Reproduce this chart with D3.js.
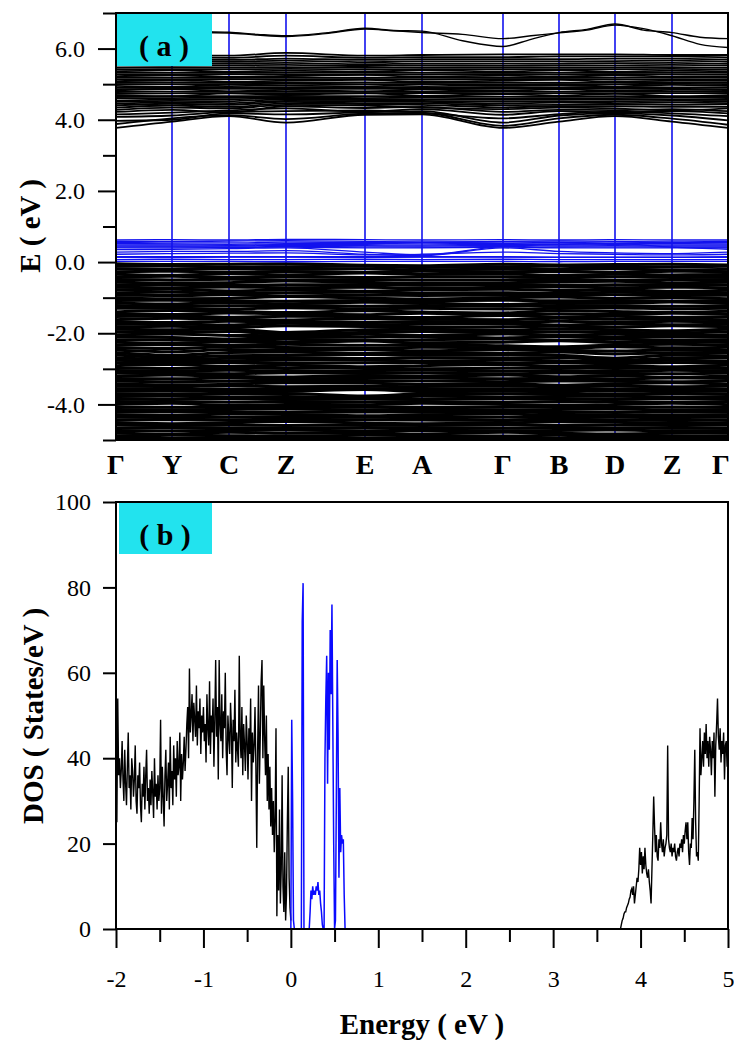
<!DOCTYPE html>
<html>
<head>
<meta charset="utf-8">
<script src="https://cdn.jsdelivr.net/npm/d3@7"></script>
<style>
  body { margin: 0; background: #fff; }
  svg { display: block; }
  text { font-family: "Liberation Serif", "Times New Roman", serif; }
</style>
</head>
<body>
<svg id="chart" width="734" height="1040"></svg>
<script>
// ---------- k-path ----------
const kLabels = ["Γ", "Y", "C", "Z", "E", "A", "Γ", "B", "D", "Z", "Γ"];
const kDist = [0, 0.56, 1.13, 1.70, 2.49, 3.06, 3.87, 4.43, 4.99, 5.56, 6.12];
// symmetry points plus the midpoints of each segment
const kFine = [0, 0.28, 0.56, 0.845, 1.13, 1.415, 1.70, 2.095, 2.49, 2.775, 3.06,
               3.465, 3.87, 4.15, 4.43, 4.71, 4.99, 5.275, 5.56, 5.84, 6.12];

// ---------- band energies (eV) ----------
// highest conduction bands, sampled on kFine
const upperBands = [
  [6.50, 6.50, 6.49, 6.48, 6.46, 6.40, 6.36, 6.44, 6.57, 6.51, 6.49, 6.22, 6.06, 6.26, 6.45, 6.54, 6.69, 6.52, 6.45, 6.32, 6.28],
  [6.46, 6.46, 6.45, 6.45, 6.44, 6.38, 6.34, 6.42, 6.55, 6.50, 6.45, 6.40, 6.28, 6.36, 6.44, 6.52, 6.66, 6.56, 6.36, 6.12, 6.03]
];

// conduction manifold, sampled on kDist
const conductionBands = [
  [3.77, 3.95, 4.10, 3.92, 4.14, 4.15, 3.77, 3.95, 4.10, 3.95, 3.77],
  [3.88, 4.04, 4.13, 4.02, 4.17, 4.19, 3.83, 4.04, 4.14, 4.03, 3.86],
  [3.97, 4.00, 4.18, 4.15, 4.21, 4.24, 3.92, 4.12, 4.18, 4.12, 3.98],
  [4.08, 4.12, 4.22, 4.24, 4.26, 4.20, 4.04, 4.16, 4.23, 4.18, 4.10],
  [4.15, 4.20, 4.26, 4.32, 4.22, 4.30, 4.14, 4.24, 4.20, 4.24, 4.18],
  [4.22, 4.28, 4.20, 4.38, 4.33, 4.36, 4.22, 4.28, 4.27, 4.30, 4.24],
  [4.28, 4.34, 4.32, 4.42, 4.40, 4.34, 4.30, 4.34, 4.32, 4.26, 4.32],
  [4.34, 4.40, 4.36, 4.46, 4.44, 4.42, 4.35, 4.38, 4.38, 4.36, 4.36],
  [4.40, 4.45, 4.42, 4.50, 4.47, 4.46, 4.41, 4.42, 4.43, 4.42, 4.43],
  [4.45, 4.49, 4.47, 4.53, 4.52, 4.50, 4.46, 4.48, 4.47, 4.48, 4.47],
  [4.50, 4.53, 4.52, 4.57, 4.55, 4.53, 4.51, 4.51, 4.52, 4.53, 4.52],
  [4.54, 4.57, 4.58, 4.60, 4.58, 4.57, 4.56, 4.56, 4.57, 4.57, 4.56],
  [4.60, 4.61, 4.62, 4.64, 4.61, 4.62, 4.60, 4.61, 4.61, 4.62, 4.61],
  [4.64, 4.66, 4.66, 4.67, 4.66, 4.66, 4.65, 4.65, 4.66, 4.65, 4.64],
  [4.69, 4.66, 4.74, 4.70, 4.75, 4.67, 4.72, 4.68, 4.73, 4.66, 4.69],
  [4.73, 4.74, 4.75, 4.75, 4.74, 4.75, 4.74, 4.75, 4.74, 4.75, 4.74],
  [4.78, 4.79, 4.79, 4.79, 4.79, 4.78, 4.79, 4.79, 4.79, 4.79, 4.78],
  [4.82, 4.86, 4.80, 4.84, 4.80, 4.85, 4.81, 4.86, 4.81, 4.84, 4.83],
  [4.86, 4.87, 4.87, 4.87, 4.87, 4.87, 4.87, 4.87, 4.87, 4.87, 4.86],
  [4.90, 4.91, 4.92, 4.91, 4.91, 4.92, 4.91, 4.91, 4.92, 4.91, 4.91],
  [4.95, 4.93, 4.98, 4.96, 4.94, 4.99, 4.95, 4.97, 4.94, 4.98, 4.95],
  [5.00, 5.00, 5.00, 5.01, 5.00, 5.00, 5.00, 5.00, 5.00, 5.01, 5.00],
  [5.04, 5.05, 5.04, 5.05, 5.05, 5.04, 5.05, 5.04, 5.05, 5.05, 5.04],
  [5.08, 5.11, 5.07, 5.10, 5.12, 5.07, 5.10, 5.12, 5.07, 5.10, 5.09],
  [5.13, 5.13, 5.14, 5.14, 5.14, 5.13, 5.14, 5.14, 5.13, 5.14, 5.13],
  [5.18, 5.18, 5.18, 5.19, 5.18, 5.18, 5.18, 5.18, 5.18, 5.19, 5.18],
  [5.22, 5.25, 5.21, 5.23, 5.26, 5.21, 5.24, 5.21, 5.25, 5.22, 5.22],
  [5.27, 5.27, 5.28, 5.28, 5.27, 5.27, 5.28, 5.27, 5.28, 5.28, 5.27],
  [5.32, 5.32, 5.32, 5.33, 5.32, 5.32, 5.32, 5.32, 5.32, 5.33, 5.32],
  [5.36, 5.39, 5.35, 5.38, 5.35, 5.39, 5.36, 5.39, 5.35, 5.38, 5.36],
  [5.41, 5.42, 5.42, 5.43, 5.41, 5.42, 5.42, 5.42, 5.42, 5.43, 5.41],
  [5.46, 5.47, 5.47, 5.48, 5.46, 5.47, 5.47, 5.47, 5.47, 5.48, 5.46],
  [5.52, 5.52, 5.53, 5.54, 5.51, 5.53, 5.52, 5.53, 5.53, 5.54, 5.52],
  [5.58, 5.58, 5.58, 5.60, 5.56, 5.58, 5.58, 5.58, 5.59, 5.60, 5.57],
  [5.64, 5.64, 5.63, 5.66, 5.62, 5.64, 5.64, 5.64, 5.65, 5.66, 5.63],
  [5.70, 5.70, 5.68, 5.72, 5.68, 5.70, 5.70, 5.70, 5.72, 5.72, 5.69],
  [5.76, 5.75, 5.74, 5.80, 5.74, 5.76, 5.76, 5.78, 5.78, 5.78, 5.75],
  [5.82, 5.80, 5.80, 5.88, 5.80, 5.82, 5.84, 5.84, 5.84, 5.82, 5.82]
];

// defect (gap) states, sampled on kDist
const defectBands = [
  [0.62, 0.63, 0.62, 0.64, 0.63, 0.62, 0.63, 0.62, 0.63, 0.62, 0.62],
  [0.58, 0.58, 0.59, 0.60, 0.58, 0.57, 0.58, 0.59, 0.58, 0.57, 0.58],
  [0.55, 0.54, 0.54, 0.56, 0.55, 0.55, 0.56, 0.55, 0.54, 0.55, 0.55],
  [0.52, 0.51, 0.50, 0.52, 0.52, 0.53, 0.52, 0.51, 0.52, 0.52, 0.51],
  [0.48, 0.48, 0.47, 0.50, 0.49, 0.48, 0.50, 0.48, 0.49, 0.48, 0.48],
  [0.45, 0.45, 0.45, 0.47, 0.46, 0.45, 0.47, 0.45, 0.46, 0.45, 0.45],
  [0.42, 0.43, 0.42, 0.44, 0.43, 0.42, 0.44, 0.42, 0.43, 0.42, 0.42],
  [0.40, 0.40, 0.41, 0.42, 0.40, 0.40, 0.42, 0.40, 0.40, 0.40, 0.40],
  [0.35, 0.36, 0.38, 0.40, 0.28, 0.20, 0.45, 0.50, 0.52, 0.42, 0.36],
  [0.28, 0.30, 0.30, 0.32, 0.22, 0.18, 0.40, 0.30, 0.26, 0.24, 0.28],
  [0.22, 0.24, 0.25, 0.26, 0.20, 0.22, 0.28, 0.24, 0.22, 0.20, 0.22],
  [0.15, 0.15, 0.15, 0.15, 0.15, 0.15, 0.15, 0.14, 0.14, 0.14, 0.15],
  [0.13, 0.13, 0.14, 0.14, 0.13, 0.14, 0.14, 0.13, 0.13, 0.13, 0.13],
  [0.07, 0.08, 0.07, 0.07, 0.08, 0.07, 0.08, 0.07, 0.07, 0.07, 0.07],
  [0.02, 0.02, 0.02, 0.01, 0.02, 0.02, 0.02, 0.01, 0.02, 0.02, 0.02]
];

// valence manifold, sampled on kDist
const valenceBands = [
  [-0.05, -0.07, -0.06, -0.05, -0.09, -0.10, -0.06, -0.08, -0.07, -0.06, -0.08],
  [-0.12, -0.11, -0.14, -0.13, -0.12, -0.15, -0.13, -0.12, -0.15, -0.14, -0.12],
  [-0.19, -0.20, -0.18, -0.21, -0.19, -0.22, -0.20, -0.21, -0.19, -0.22, -0.20],
  [-0.27, -0.26, -0.28, -0.27, -0.29, -0.26, -0.28, -0.27, -0.29, -0.26, -0.27],
  [-0.34, -0.37, -0.33, -0.36, -0.31, -0.35, -0.33, -0.38, -0.34, -0.36, -0.35],
  [-0.42, -0.40, -0.43, -0.41, -0.43, -0.42, -0.41, -0.44, -0.41, -0.42, -0.43],
  [-0.49, -0.50, -0.48, -0.50, -0.49, -0.51, -0.50, -0.49, -0.51, -0.49, -0.50],
  [-0.56, -0.59, -0.58, -0.53, -0.57, -0.60, -0.58, -0.56, -0.54, -0.58, -0.56],
  [-0.64, -0.63, -0.65, -0.64, -0.63, -0.65, -0.63, -0.65, -0.64, -0.63, -0.64],
  [-0.71, -0.72, -0.70, -0.72, -0.71, -0.73, -0.71, -0.70, -0.72, -0.71, -0.72],
  [-0.78, -0.76, -0.81, -0.78, -0.82, -0.78, -0.76, -0.80, -0.78, -0.82, -0.79],
  [-0.86, -0.85, -0.87, -0.86, -0.85, -0.87, -0.86, -0.88, -0.85, -0.87, -0.86],
  [-0.93, -0.94, -0.92, -0.95, -0.93, -0.94, -0.93, -0.94, -0.92, -0.94, -0.93],
  [-1.00, -1.03, -1.02, -0.97, -1.01, -1.04, -1.00, -0.98, -1.02, -1.00, -1.03],
  [-1.08, -1.07, -1.09, -1.10, -1.08, -1.09, -1.07, -1.09, -1.08, -1.10, -1.08],
  [-1.15, -1.18, -1.14, -1.17, -1.13, -1.15, -1.19, -1.15, -1.16, -1.12, -1.16],
  [-1.22, -1.24, -1.23, -1.22, -1.24, -1.22, -1.24, -1.22, -1.23, -1.24, -1.22],
  [-1.30, -1.30, -1.32, -1.28, -1.31, -1.30, -1.32, -1.30, -1.29, -1.31, -1.30],
  [-1.40, -1.36, -1.38, -1.42, -1.37, -1.40, -1.43, -1.36, -1.39, -1.41, -1.38],
  [-1.45, -1.47, -1.43, -1.46, -1.48, -1.44, -1.47, -1.45, -1.47, -1.44, -1.46],
  [-1.53, -1.51, -1.55, -1.52, -1.54, -1.56, -1.50, -1.54, -1.52, -1.55, -1.53],
  [-1.62, -1.58, -1.60, -1.63, -1.59, -1.61, -1.62, -1.58, -1.61, -1.60, -1.62],
  [-1.67, -1.70, -1.66, -1.68, -1.70, -1.67, -1.69, -1.66, -1.69, -1.66, -1.68],
  [-1.75, -1.74, -1.77, -1.72, -1.76, -1.75, -1.73, -1.77, -1.74, -1.76, -1.75],
  [-1.82, -1.80, -1.84, -1.79, -1.81, -1.84, -1.82, -1.80, -1.83, -1.79, -1.82],
  [-1.89, -1.90, -1.88, -1.98, -1.90, -1.89, -1.91, -1.88, -1.90, -1.93, -1.89],
  [-1.96, -1.97, -1.95, -2.03, -1.97, -1.95, -1.98, -1.96, -1.97, -1.99, -1.96],
  [-2.04, -2.02, -2.06, -2.07, -2.03, -2.06, -2.02, -2.05, -2.03, -2.06, -2.04],
  [-2.10, -2.12, -2.16, -2.12, -2.11, -2.09, -2.13, -2.10, -2.12, -2.10, -2.11],
  [-2.18, -2.19, -2.21, -2.17, -2.20, -2.18, -2.16, -2.20, -2.17, -2.19, -2.18],
  [-2.25, -2.28, -2.24, -2.26, -2.22, -2.27, -2.25, -2.21, -2.26, -2.23, -2.26],
  [-2.33, -2.32, -2.34, -2.31, -2.34, -2.32, -2.35, -2.38, -2.33, -2.31, -2.33],
  [-2.40, -2.43, -2.38, -2.40, -2.42, -2.39, -2.41, -2.44, -2.38, -2.41, -2.39],
  [-2.47, -2.52, -2.46, -2.48, -2.46, -2.49, -2.46, -2.48, -2.50, -2.47, -2.48],
  [-2.55, -2.62, -2.54, -2.53, -2.56, -2.54, -2.56, -2.53, -2.58, -2.55, -2.54],
  [-2.61, -2.68, -2.63, -2.62, -2.60, -2.62, -2.61, -2.62, -2.70, -2.62, -2.63],
  [-2.69, -2.74, -2.70, -2.68, -2.71, -2.69, -2.70, -2.68, -2.76, -2.70, -2.69],
  [-2.76, -2.78, -2.77, -2.76, -2.75, -2.78, -2.76, -2.77, -2.80, -2.76, -2.78],
  [-2.83, -2.84, -2.82, -2.85, -2.83, -2.82, -2.85, -2.83, -2.85, -2.82, -2.84],
  [-2.91, -2.88, -2.93, -2.90, -2.94, -2.91, -2.88, -2.93, -2.91, -2.94, -2.90],
  [-2.98, -2.99, -2.97, -2.99, -2.97, -3.00, -2.98, -2.97, -2.99, -2.98, -2.99],
  [-3.05, -3.06, -3.04, -3.07, -3.05, -3.04, -3.06, -3.05, -3.07, -3.04, -3.06],
  [-3.12, -3.13, -3.14, -3.11, -3.13, -3.12, -3.14, -3.12, -3.13, -3.14, -3.12],
  [-3.20, -3.17, -3.21, -3.23, -3.19, -3.21, -3.17, -3.22, -3.19, -3.24, -3.20],
  [-3.27, -3.28, -3.26, -3.28, -3.27, -3.26, -3.28, -3.27, -3.28, -3.26, -3.27],
  [-3.34, -3.36, -3.35, -3.33, -3.35, -3.34, -3.36, -3.34, -3.35, -3.36, -3.34],
  [-3.42, -3.45, -3.43, -3.39, -3.40, -3.44, -3.41, -3.46, -3.42, -3.39, -3.43],
  [-3.49, -3.50, -3.48, -3.50, -3.49, -3.50, -3.48, -3.50, -3.49, -3.50, -3.48],
  [-3.56, -3.57, -3.58, -3.56, -3.55, -3.57, -3.56, -3.57, -3.58, -3.56, -3.57],
  [-3.63, -3.62, -3.64, -3.63, -3.58, -3.64, -3.63, -3.64, -3.62, -3.64, -3.63],
  [-3.70, -3.71, -3.70, -3.69, -3.76, -3.71, -3.70, -3.72, -3.71, -3.70, -3.71],
  [-3.78, -3.77, -3.79, -3.78, -3.80, -3.77, -3.79, -3.78, -3.77, -3.79, -3.78],
  [-3.85, -3.86, -3.84, -3.86, -3.85, -3.86, -3.84, -3.86, -3.85, -3.84, -3.86],
  [-3.92, -3.93, -3.94, -3.92, -3.93, -3.92, -3.94, -3.93, -3.92, -3.94, -3.93],
  [-4.00, -3.97, -4.03, -4.00, -4.01, -3.97, -4.00, -4.03, -4.00, -3.97, -4.01],
  [-4.07, -4.08, -4.06, -4.08, -4.07, -4.08, -4.07, -4.06, -4.08, -4.07, -4.08],
  [-4.14, -4.15, -4.14, -4.13, -4.15, -4.14, -4.15, -4.14, -4.13, -4.15, -4.14],
  [-4.22, -4.21, -4.22, -4.23, -4.21, -4.22, -4.21, -4.23, -4.22, -4.21, -4.22],
  [-4.29, -4.31, -4.27, -4.28, -4.32, -4.29, -4.27, -4.31, -4.28, -4.30, -4.29],
  [-4.36, -4.37, -4.36, -4.37, -4.36, -4.37, -4.36, -4.37, -4.36, -4.37, -4.36],
  [-4.44, -4.43, -4.44, -4.45, -4.43, -4.44, -4.45, -4.43, -4.44, -4.45, -4.44],
  [-4.51, -4.54, -4.51, -4.48, -4.52, -4.54, -4.52, -4.49, -4.50, -4.53, -4.51],
  [-4.58, -4.59, -4.58, -4.59, -4.58, -4.59, -4.58, -4.59, -4.58, -4.59, -4.58],
  [-4.66, -4.65, -4.66, -4.67, -4.65, -4.66, -4.67, -4.65, -4.66, -4.67, -4.66],
  [-4.73, -4.74, -4.73, -4.72, -4.74, -4.73, -4.74, -4.73, -4.72, -4.74, -4.73],
  [-4.80, -4.83, -4.78, -4.81, -4.80, -4.83, -4.78, -4.81, -4.83, -4.81, -4.80],
  [-4.88, -4.87, -4.88, -4.89, -4.87, -4.88, -4.89, -4.87, -4.88, -4.89, -4.88],
  [-4.95, -4.96, -4.95, -4.94, -4.96, -4.95, -4.96, -4.95, -4.94, -4.96, -4.95],
  [-5.02, -5.03, -5.02, -5.03, -5.02, -5.03, -5.02, -5.03, -5.02, -5.03, -5.02]
];

// ---------- density of states (states/eV), 0.01 eV grid ----------
const dosStep = 0.01;
const dosValenceStart = -2.00;
const dosValence = [
  38, 25, 54, 36, 40, 33, 37, 44, 35, 30,
  42, 34, 29, 38, 46, 33, 36, 28, 40, 37,
  31, 35, 43, 30, 27, 36, 33, 39, 29, 25,
  34, 31, 38, 28, 36, 42, 30, 33, 27, 35,
  29, 37, 32, 26, 40, 31, 34, 28, 36, 30,
  33, 49, 27, 38, 31, 24, 36, 42, 30, 34,
  39, 28, 45, 33, 37, 29, 43, 35, 40, 31,
  44, 36, 38, 46, 30, 41, 35, 39, 45, 37,
  42, 48, 52, 40, 61, 46, 50, 55, 44, 53,
  49, 45, 57, 43, 51, 47, 54, 41, 50, 46,
  52, 44, 48, 39, 55, 47, 43, 58, 41, 50,
  46, 54, 38, 49, 63, 45, 52, 35, 63, 48,
  44, 55, 40, 51, 47, 60, 42, 36, 50, 45,
  41, 53, 47, 33, 49, 44, 56, 39, 46, 42,
  38, 64, 45, 40, 52, 36, 48, 43, 37, 50,
  44, 35, 47, 41, 54, 30, 46, 39, 43, 52,
  38, 19, 42, 57, 34, 45, 58, 63, 40, 57,
  45, 36, 50, 30, 41, 28, 38, 24, 33, 22,
  30, 18, 26, 47, 3, 22, 9, 28, 6, 14,
  36, 10, 4, 18, 2, 8, 25, 38, 12, 5,
  2
];
const dosDefectStart = 0.00;
const dosDefect = [
  0, 49, 30, 2, 0, 0, 0, 0, 0, 0,
  0, 0, 0, 72, 81, 0, 0, 0, 0, 0,
  0, 0, 4, 9, 7, 10, 8, 9, 8, 10,
  9, 11, 8, 9, 6, 4, 1, 0, 0, 40,
  54, 64, 34, 60, 42, 70, 55, 76, 48, 20,
  0, 2, 30, 63, 45, 12, 33, 18, 22, 20,
  21, 8, 0
];
const dosConductionStart = 3.76;
const dosConduction = [
  0, 0, 1, 2, 2.5, 3.5, 4, 4, 5, 5.5,
  6, 7, 7.5, 9, 9.5, 8, 10, 6, 8, 10,
  12, 11, 14, 19, 15, 18, 13, 17, 14, 19,
  15, 13, 12, 14, 11, 9, 6, 14, 22, 31,
  24, 18, 22, 17, 16, 21, 19, 25, 20, 18,
  21, 17, 19, 20, 22, 43, 21, 19, 18, 20,
  17, 19, 18, 20, 17, 16, 18, 19, 17, 20,
  19, 21, 18, 22, 20, 23, 25, 21, 25, 18,
  15, 20, 19, 26, 21, 30, 42, 25, 17, 18,
  16, 30, 47, 36, 40, 44, 38, 46, 41, 48,
  40, 44, 38, 45, 42, 36, 44, 40, 46, 31,
  43, 48, 54, 45, 42, 47, 39, 44, 41, 46,
  35, 43, 44, 38, 40
];

// ---------- axis ticks ----------
const bandTicks = [-4, -2, 0, 2, 4, 6];
const bandMinorTicks = [-5, -3, -1, 1, 3, 5, 7];
const dosYTicks = [0, 20, 40, 60, 80, 100];
const dosXTicks = [-2, -1, 0, 1, 2, 3, 4, 5];
const dosXMinorTicks = [-1.5, -0.5, 0.5, 1.5, 2.5, 3.5, 4.5];

// ---------- drawing ----------
const svg = d3.select("#chart");
svg.append("rect").attr("width", 734).attr("height", 1040).attr("fill", "#fff");

const BLUE = "#1212ee";
const CYAN = "#22e3ee";
const pa = { left: 116, right: 728, top: 13, bottom: 440 };
const pb = { left: 116, right: 728, top: 502, bottom: 929 };

// ===== (a) band structure =====
const xk = d3.scaleLinear().domain([0, kDist[kDist.length - 1]]).range([pa.left, pa.right]);
const yE = d3.scaleLinear().domain([-5, 7]).range([pa.bottom, pa.top]);

svg.append("clipPath").attr("id", "clipA")
  .append("rect").attr("x", pa.left).attr("y", pa.top)
  .attr("width", pa.right - pa.left).attr("height", pa.bottom - pa.top);

const gA = svg.append("g").attr("clip-path", "url(#clipA)");

// high-symmetry lines
gA.selectAll("line.kline").data(kDist.slice(1, -1)).join("line")
  .attr("class", "kline")
  .attr("x1", d => xk(d)).attr("x2", d => xk(d))
  .attr("y1", pa.top).attr("y2", pa.bottom)
  .attr("stroke", BLUE).attr("stroke-width", 1.6);

const bandLine = ks => d3.line()
  .x((d, i) => xk(ks[i]))
  .y(d => yE(d))
  .curve(d3.curveMonotoneX);

gA.append("g").selectAll("path").data(valenceBands).join("path")
  .attr("d", bandLine(kDist)).attr("fill", "none")
  .attr("stroke", "#000").attr("stroke-width", 3.0);

gA.append("g").selectAll("path").data(conductionBands).join("path")
  .attr("d", bandLine(kDist)).attr("fill", "none")
  .attr("stroke", "#000").attr("stroke-width", 1.8);

gA.append("g").selectAll("path").data(upperBands).join("path")
  .attr("d", bandLine(kFine)).attr("fill", "none")
  .attr("stroke", "#000").attr("stroke-width", 1.4);

gA.append("g").selectAll("path").data(defectBands).join("path")
  .attr("d", bandLine(kDist)).attr("fill", "none")
  .attr("stroke", BLUE).attr("stroke-width", 1.3);

// panel tag (a)
svg.append("rect").attr("x", 117).attr("y", 14).attr("width", 95).attr("height", 52).attr("fill", CYAN);
svg.append("text").attr("x", 164).attr("y", 56).attr("text-anchor", "middle")
  .attr("font-size", 30).attr("font-weight", "bold").text("( a )");

// frame
svg.append("rect").attr("x", pa.left).attr("y", pa.top)
  .attr("width", pa.right - pa.left).attr("height", pa.bottom - pa.top)
  .attr("fill", "none").attr("stroke", "#000").attr("stroke-width", 2);

// y axis
const axA = svg.append("g").attr("transform", `translate(${pa.left},0)`)
  .call(d3.axisLeft(yE).tickValues(bandTicks).tickSize(18).tickPadding(13)
    .tickFormat(d => d.toFixed(1)));
const axAm = svg.append("g").attr("transform", `translate(${pa.left},0)`)
  .call(d3.axisLeft(yE).tickValues(bandMinorTicks).tickSize(13).tickFormat(""));
[axA, axAm].forEach(g => {
  g.select(".domain").remove();
  g.selectAll(".tick line").attr("stroke-width", 2);
});
axA.selectAll(".tick text").attr("font-size", 24).attr("font-family", "Liberation Serif").attr("fill", "#000");

// k labels (the closing Γ sits just inside the page edge)
svg.append("g").selectAll("text").data(kLabels).join("text")
  .attr("x", (d, i) => Math.min(xk(kDist[i]), 721)).attr("y", 474)
  .attr("text-anchor", "middle").attr("font-size", 28).attr("font-weight", "bold")
  .text(d => d);

svg.append("text").attr("transform", `translate(40,226) rotate(-90)`)
  .attr("text-anchor", "middle").attr("font-size", 29).attr("font-weight", "bold")
  .text("E ( eV )");

// ===== (b) density of states =====
const xD = d3.scaleLinear().domain([-2, 5]).range([pb.left, pb.right]);
const yD = d3.scaleLinear().domain([0, 100]).range([pb.bottom, pb.top]);

const dosLine = start => d3.line()
  .x((d, i) => xD(start + i * dosStep))
  .y(d => yD(d));

svg.append("path").datum(dosValence).attr("d", dosLine(dosValenceStart))
  .attr("fill", "none").attr("stroke", "#000").attr("stroke-width", 1.4);
svg.append("path").datum(dosConduction).attr("d", dosLine(dosConductionStart))
  .attr("fill", "none").attr("stroke", "#000").attr("stroke-width", 1.4);
svg.append("path").datum(dosDefect).attr("d", dosLine(dosDefectStart))
  .attr("fill", "none").attr("stroke", "#0a0aff").attr("stroke-width", 1.5);

// panel tag (b)
svg.append("rect").attr("x", 119).attr("y", 503).attr("width", 93).attr("height", 51).attr("fill", CYAN);
svg.append("text").attr("x", 165).attr("y", 545).attr("text-anchor", "middle")
  .attr("font-size", 30).attr("font-weight", "bold").text("( b )");

// frame lines
svg.append("path")
  .attr("d", `M${pb.left},${pb.bottom}V${pb.top}H${pb.right}V${pb.bottom}H${pb.left}`)
  .attr("fill", "none").attr("stroke", "#000").attr("stroke-width", 2);

const axBx = svg.append("g").attr("transform", `translate(0,${pb.bottom})`)
  .call(d3.axisBottom(xD).tickValues(dosXTicks).tickSize(19).tickPadding(22).tickFormat(d => String(d)));
const axBxm = svg.append("g").attr("transform", `translate(0,${pb.bottom})`)
  .call(d3.axisBottom(xD).tickValues(dosXMinorTicks).tickSize(13).tickFormat(""));
const axBy = svg.append("g").attr("transform", `translate(${pb.left},0)`)
  .call(d3.axisLeft(yD).tickValues(dosYTicks).tickSize(13).tickPadding(12).tickFormat(d => String(d)));
[axBx, axBxm, axBy].forEach(g => {
  g.select(".domain").remove();
  g.selectAll(".tick line").attr("stroke-width", 2);
});
[axBx, axBy].forEach(g => g.selectAll(".tick text")
  .attr("font-size", 24).attr("font-family", "Liberation Serif").attr("fill", "#000"));

svg.append("text").attr("x", 422).attr("y", 1034).attr("text-anchor", "middle")
  .attr("font-size", 29).attr("font-weight", "bold").text("Energy ( eV )");

svg.append("text").attr("transform", `translate(43,716) rotate(-90)`)
  .attr("text-anchor", "middle").attr("font-size", 29).attr("font-weight", "bold")
  .text("DOS ( States/eV )");
</script>
</body>
</html>
